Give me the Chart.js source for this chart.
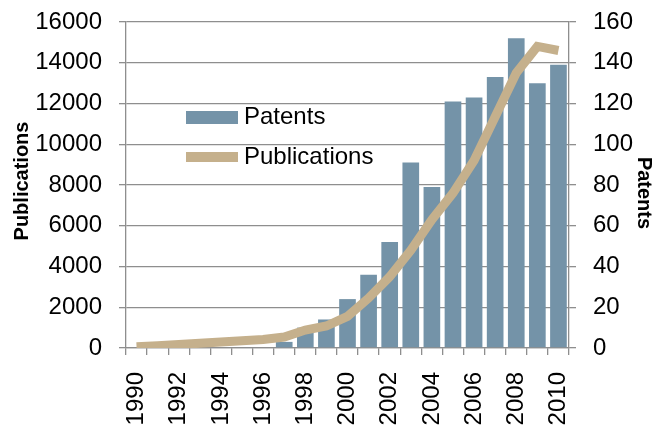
<!DOCTYPE html>
<html>
<head>
<meta charset="utf-8">
<script src="https://cdn.jsdelivr.net/npm/chart.js@4.4.1/dist/chart.umd.min.js"></script>
<style>
  html, body { margin: 0; padding: 0; background: #ffffff; }
  #wrap { width: 658px; height: 437px; }
</style>
</head>
<body>
<div id="wrap"><canvas id="chart" width="658" height="437"></canvas></div>
<script>
// Datos
var years = ['1990', '1991', '1992', '1993', '1994', '1995', '1996', '1997', '1998', '1999', '2000',
             '2001', '2002', '2003', '2004', '2005', '2006', '2007', '2008', '2009', '2010'];

// Patentes (eje derecho, 0-160)
var patents = [0, 0, 0, 0, 0, 0, 0, 3, 10, 14, 24, 36, 52, 91, 79, 121, 123, 133, 152, 130, 139];

// Publicaciones (eje izquierdo, 0-16000)
var publications = [60, 110, 170, 230, 300, 360, 420, 540, 880, 1080, 1550,
                    2450, 3500, 4800, 6300, 7600, 9200, 11350, 13500, 14800, 14600];

// Títulos de ejes
var leftTitle = 'Publications';
var rightTitle = 'Patents';

var FONT = 'Liberation Sans, Arial, Helvetica, sans-serif';
var GRID = '#8e8e8e';

// Leyenda dentro del área del gráfico y títulos de ejes, como en el original
var extras = {
    id: 'extras',
    afterDatasetsDraw: function (chart) {
        var ctx = chart.ctx;
        var ds = chart.data.datasets;
        ctx.save();
        ctx.font = '24px ' + FONT;
        ctx.textBaseline = 'middle';
        ctx.textAlign = 'left';
        // Patents: bloque
        ctx.fillStyle = ds[0].backgroundColor;
        ctx.fillRect(186, 111, 52, 13);
        ctx.fillStyle = '#000';
        ctx.fillText(ds[0].label, 244, 117.5);
        // Publications: línea gruesa
        ctx.fillStyle = ds[1].borderColor;
        ctx.fillRect(186, 152, 52, 10);
        ctx.fillStyle = '#000';
        ctx.fillText(ds[1].label, 244, 157.5);

        // Títulos de ejes
        ctx.font = 'bold 20px ' + FONT;
        ctx.textAlign = 'center';
        ctx.save();
        ctx.translate(22, 181);
        ctx.rotate(-Math.PI / 2);
        ctx.fillText(leftTitle, 0, 0);
        ctx.restore();
        ctx.save();
        ctx.translate(644, 193);
        ctx.rotate(Math.PI / 2);
        ctx.fillText(rightTitle, 0, 0);
        ctx.restore();
        ctx.restore();
    }
};

function plain(v) { return String(v); }

// Ancho fijo del eje vertical y sin relleno extra arriba/abajo
function fixWidth(w) {
    return function (s) {
        s.width = w;
        s.paddingTop = 0;
        s.paddingBottom = 0;
    };
}

new Chart(document.getElementById('chart').getContext('2d'), {
    type: 'bar',
    data: {
        labels: years,
        datasets: [{
            type: 'bar',
            label: 'Patents',
            data: patents,
            yAxisID: 'y1',
            backgroundColor: '#7493a8',
            barPercentage: 0.79,
            categoryPercentage: 1,
            order: 2
        }, {
            type: 'line',
            label: 'Publications',
            data: publications,
            yAxisID: 'y',
            borderColor: '#c5b08c',
            backgroundColor: '#c5b08c',
            borderWidth: 9,
            pointRadius: 0,
            tension: 0,
            fill: false,
            order: 1
        }]
    },
    options: {
        responsive: false,
        animation: false,
        layout: { padding: { top: 22, left: 0, right: 0, bottom: 0 } },
        plugins: {
            legend: { display: false },
            tooltip: { enabled: false }
        },
        scales: {
            x: {
                offset: true,
                afterFit: function (s) { s.height = 89; },
                grid: { offset: true, drawOnChartArea: false, drawTicks: true, tickLength: 7, color: GRID, lineWidth: 1.3 },
                border: { display: true, color: GRID, width: 1.3 },
                ticks: {
                    autoSkip: false,
                    maxRotation: 90,
                    minRotation: 90,
                    padding: 17,
                    color: '#000',
                    font: { family: FONT, size: 24 },
                    callback: function (val, i) {
                        return i % 2 === 0 ? years[i] : '';
                    }
                }
            },
            y: {
                position: 'left',
                min: 0,
                max: 16000,
                afterFit: fixWidth(126),
                grid: { color: GRID, lineWidth: 1.3, tickLength: 7 },
                border: { display: true, color: GRID, width: 1.3 },
                ticks: {
                    stepSize: 2000,
                    padding: 17,
                    color: '#000',
                    font: { family: FONT, size: 24 },
                    callback: plain
                }
            },
            y1: {
                position: 'right',
                min: 0,
                max: 160,
                afterFit: fixWidth(89),
                grid: { drawOnChartArea: false, color: GRID, lineWidth: 1.3, tickLength: 7 },
                border: { display: true, color: GRID, width: 1.3 },
                ticks: {
                    stepSize: 20,
                    padding: 17,
                    color: '#000',
                    font: { family: FONT, size: 24 },
                    callback: plain
                }
            }
        }
    },
    plugins: [extras]
});
</script>
</body>
</html>
